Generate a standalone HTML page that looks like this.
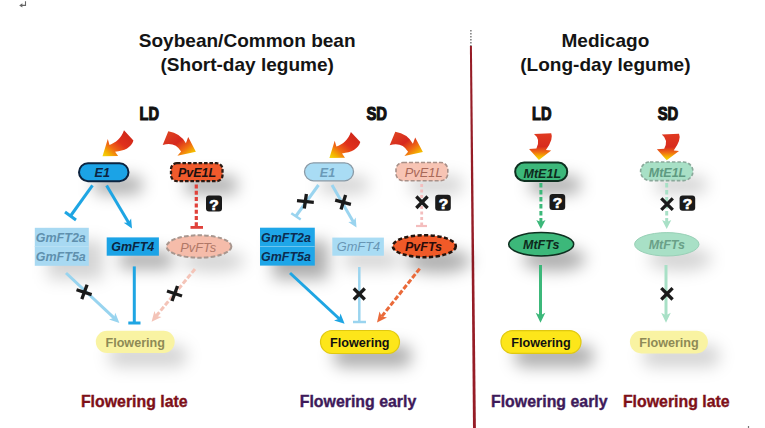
<!DOCTYPE html>
<html><head><meta charset="utf-8">
<style>
html,body{margin:0;padding:0;background:#fff;}
body{width:765px;height:428px;overflow:hidden;position:relative;font-family:"Liberation Sans",sans-serif;}
svg{position:absolute;left:0;top:0;}
text{font-family:"Liberation Sans",sans-serif;}
.t{font-weight:bold;font-size:19.05px;fill:#141414;text-anchor:middle;}
.ld{font-weight:bold;font-size:17.6px;fill:#111;stroke:#111;stroke-width:1.1px;text-anchor:middle;}
.it{font-weight:bold;font-style:italic;font-size:12.5px;text-anchor:middle;}
.ir{font-weight:normal;font-style:italic;font-size:12.8px;text-anchor:middle;}
.fl{font-weight:bold;font-size:12.6px;text-anchor:middle;}
.res{font-weight:bold;font-size:15.9px;text-anchor:middle;stroke-width:0.35px;}
.q{font-weight:bold;font-size:15.5px;fill:#fff;stroke:#fff;stroke-width:0.7px;text-anchor:middle;}
</style></head>
<body>
<svg width="765" height="428" viewBox="0 0 765 428">
<defs>
  <linearGradient id="gA" x1="1" y1="0" x2="0" y2="1">
    <stop offset="0" stop-color="#c82418"/>
    <stop offset="0.45" stop-color="#e0301c"/>
    <stop offset="0.68" stop-color="#f06a14"/>
    <stop offset="0.86" stop-color="#f4b400"/>
    <stop offset="1" stop-color="#f2dc10"/>
  </linearGradient>
  <linearGradient id="gB" x1="0" y1="0" x2="1" y2="1">
    <stop offset="0" stop-color="#e04a22"/>
    <stop offset="0.45" stop-color="#d6281e"/>
    <stop offset="0.68" stop-color="#f06a14"/>
    <stop offset="0.86" stop-color="#f4b400"/>
    <stop offset="1" stop-color="#f2dc10"/>
  </linearGradient>
  <linearGradient id="gC" x1="0" y1="0" x2="0" y2="1">
    <stop offset="0" stop-color="#e03a20"/>
    <stop offset="0.5" stop-color="#d82c1e"/>
    <stop offset="0.7" stop-color="#f06a14"/>
    <stop offset="0.87" stop-color="#f4b400"/>
    <stop offset="1" stop-color="#f2dc10"/>
  </linearGradient>
  <filter id="sh" x="-80%" y="-100%" width="260%" height="300%">
    <feGaussianBlur stdDeviation="8"/>
  </filter>
  <path id="arA" d="M0,0 L5.3,-17.3 L7,-11.4 C13,-13.5 19,-18 21.5,-26 L30.9,-15.9 C29,-9 22,-5.5 12.6,-4.6 L15.6,-0.2 Z"/>
  <path id="arB" d="M0,0 L-7.7,-14.7 L-10,-8.4 Q-15.5,-18.5 -27.6,-20.4 L-33.2,-6.8 Q-21,-10.5 -14.8,-0.3 L-18.5,4 Z"/>
  <path id="arC" d="M0,0 L-9.8,-11 L-2.5,-11.5 Q2.1,-20.5 -4.9,-25.8 L12.3,-26.6 Q15,-21 7,-9.8 L12.3,-9.4 Z"/>
</defs>

<!-- top-left return mark -->
<path d="M25.5,1.2 V5.4 H21" fill="none" stroke="#666" stroke-width="1.1"/><path d="M19.2,5.4 L22.4,3.2 L22.4,7.6 Z" fill="#666"/>

<!-- titles -->
<text class="t" x="247.2" y="47.3">Soybean/Common bean</text>
<text class="t" x="247.2" y="70.8">(Short-day legume)</text>
<text class="t" x="605.4" y="47.3">Medicago</text>
<text class="t" x="605.4" y="70.8">(Long-day legume)</text>

<!-- divider -->
<line x1="470.9" y1="30" x2="470.9" y2="47" stroke="#666" stroke-width="1.3" stroke-dasharray="1.6,1.4"/><polygon points="469.9,46 471.9,46 475.9,428 473,428" fill="#961c26"/>

<!-- LD/SD labels -->
<text class="ld" transform="translate(149.2,120) scale(0.83,1)">LD</text>
<text class="ld" transform="translate(376.7,120) scale(0.84,1)">SD</text>
<text class="ld" transform="translate(541.7,120) scale(0.83,1)">LD</text>
<text class="ld" transform="translate(668,120) scale(0.84,1)">SD</text>

<!-- ===== shadows ===== -->
<g fill="#000" filter="url(#sh)">
  <g opacity="0.32" transform="translate(2,4)">
  <rect x="91" y="172" width="50" height="18" rx="9"/>
  <rect x="183" y="172" width="52" height="18" rx="6"/>
  <rect x="118" y="247" width="52" height="18"/>
  <rect x="271" y="237" width="55" height="38"/>
  <ellipse cx="436" cy="257" rx="33" ry="12"/>
  <ellipse cx="552" cy="255" rx="32" ry="12"/>
  <rect x="527" y="172" width="52" height="18" rx="9"/>
  <rect x="331" y="341" width="79" height="22" rx="11"/>
  <rect x="512" y="341" width="80" height="22" rx="11"/>
  </g>
  <g opacity="0.17" transform="translate(2,4)">
  <rect x="317" y="172" width="50" height="18" rx="9"/>
  <rect x="408" y="172" width="52" height="18" rx="6"/>
  <rect x="653" y="172" width="52" height="18" rx="9"/>
  <rect x="46" y="237" width="55" height="38"/>
  <ellipse cx="211" cy="257" rx="32" ry="11"/>
  <rect x="343" y="247" width="52" height="18"/>
  <ellipse cx="678" cy="255" rx="32" ry="12"/>
  <rect x="106" y="341" width="79" height="22" rx="11"/>
  <rect x="640" y="341" width="78" height="22" rx="11"/>
  </g>
</g>

<!-- ===== Soybean LD ===== -->
<use href="#arA" transform="translate(102.5,156.3)" fill="url(#gA)"/>
<use href="#arB" transform="translate(195.9,151.7)" fill="url(#gB)"/>

<rect x="79" y="163.2" width="49.5" height="18" rx="9" fill="#1ba3e6" stroke="#0c2440" stroke-width="2"/>
<text class="it" x="102.2" y="177.2" fill="#0c2440" font-size="12.8">E1</text>

<rect x="171" y="163.2" width="51.5" height="18" rx="6" fill="#f05a2c" stroke="#2a1a14" stroke-width="2.3" stroke-dasharray="3.6,1.8"/>
<text class="it" x="197.1" y="177.3" fill="#1a1010" font-size="12.1">PvE1L</text>

<!-- E1 lines -->
<line x1="92.5" y1="185.4" x2="70.5" y2="216" stroke="#1ea5e3" stroke-width="3"/>
<line x1="65" y1="212" x2="76" y2="220" stroke="#1ea5e3" stroke-width="3"/>

<!-- PvE1L dashed inhibit -->
<line x1="196.3" y1="184.5" x2="196.3" y2="227" stroke="#e0413a" stroke-width="3.2" stroke-dasharray="4,2.3"/>
<line x1="190.5" y1="227.4" x2="203" y2="227.4" stroke="#e0413a" stroke-width="2.8"/>
<rect x="206" y="195.5" width="16" height="16" rx="3" fill="#1a1a1a"/>
<text class="q" x="214" y="209.6">?</text>

<!-- GmFT2a/5a light -->
<rect x="34.8" y="227.8" width="54" height="38" fill="#a8d9f2"/>
<line x1="34.8" y1="246.5" x2="88.8" y2="246.5" stroke="#b8e0f4" stroke-width="1"/>
<text class="it" x="60.8" y="241.7" fill="#5f90ae" font-size="12.2">GmFT2a</text>
<text class="it" x="60.8" y="261" fill="#5f90ae" font-size="12.2">GmFT5a</text>

<!-- GmFT4 -->
<rect x="106.7" y="237.4" width="52.2" height="18.3" fill="#1ba3e6"/>
<text class="it" x="132.8" y="251.2" fill="#0c2440">GmFT4</text>

<!-- PvFTs light -->
<ellipse cx="199" cy="246.5" rx="32.4" ry="11.2" fill="#f5bcaa" stroke="#a8968e" stroke-width="2" stroke-dasharray="4.5,2.2"/>
<text class="ir" x="198.2" y="251.5" fill="#b07868" font-size="13.4">PvFTs</text>

<!-- bottom lines LD -->
<line x1="134.3" y1="266.4" x2="134.3" y2="323" stroke="#1ea5e3" stroke-width="3"/>
<line x1="128.3" y1="323" x2="140.5" y2="323" stroke="#1ea5e3" stroke-width="3"/>

<!-- Flowering light -->
<rect x="95.8" y="330.7" width="78.9" height="22.3" rx="11.15" fill="#f9f3a2"/>
<text class="fl" x="135.2" y="346.6" fill="#8e8a56">Flowering</text>

<text class="res" x="134.3" y="407.2" fill="#7e1018" stroke="#7e1018">Flowering late</text>

<!-- ===== Soybean SD ===== -->
<use href="#arA" transform="translate(329.4,158)" fill="url(#gA)"/>
<use href="#arB" transform="translate(422.9,152.1)" fill="url(#gB)"/>

<rect x="304.5" y="162.8" width="49" height="18" rx="9" fill="#a9dcf4" stroke="#8a9aa6" stroke-width="1.3"/>
<text class="it" x="327.5" y="177" fill="#6a9ab8" font-size="12.8">E1</text>

<rect x="396" y="162.5" width="51.8" height="18.2" rx="7" fill="#f7c4b4" stroke="#a89088" stroke-width="1.6" stroke-dasharray="4,2"/>
<text class="ir" x="423.7" y="177.3" fill="#a86858" font-size="12.6">PvE1L</text>

<line x1="318.5" y1="185" x2="296" y2="216" stroke="#9ad4ef" stroke-width="3"/>
<line x1="291.3" y1="213.2" x2="300.7" y2="219.5" stroke="#9ad4ef" stroke-width="2.5"/>

<line x1="421.7" y1="184" x2="421.7" y2="226" stroke="#f4bdbd" stroke-width="2.8" stroke-dasharray="3,2.5"/>
<line x1="416" y1="226" x2="427" y2="226" stroke="#f4bdbd" stroke-width="2.2"/>
<rect x="435.2" y="194.8" width="15.6" height="15.9" rx="3" fill="#1a1a1a"/>
<text class="q" x="443.5" y="208.8">?</text>

<rect x="260" y="227.7" width="54.8" height="37.9" fill="#1ea6e8"/>
<line x1="260" y1="246.5" x2="314.8" y2="246.5" stroke="#6cc6f0" stroke-width="1"/>
<text class="it" x="286" y="241.8" fill="#0d2c50" font-size="12.2">GmFT2a</text>
<text class="it" x="286" y="261.1" fill="#0d2c50" font-size="12.2">GmFT5a</text>

<rect x="332.3" y="237.6" width="51.6" height="18.1" fill="#a9dcf4"/>
<text class="ir" x="358.4" y="251.2" fill="#6896b4" font-size="12.9">GmFT4</text>

<ellipse cx="424.3" cy="246.2" rx="31.5" ry="11" fill="#f05a28" stroke="#22120c" stroke-width="2.6" stroke-dasharray="4.2,2.4"/>
<text class="it" x="423.5" y="251.1" fill="#2a0c0a">PvFTs</text>

<line x1="359.3" y1="267" x2="359.3" y2="322" stroke="#9ad4ef" stroke-width="2.5"/>
<line x1="353" y1="322" x2="366" y2="322" stroke="#9ad4ef" stroke-width="2.5"/>

<rect x="320.5" y="330.5" width="79" height="23" rx="11.5" fill="#fde61a" stroke="#e0c810" stroke-width="1.2"/>
<text class="fl" x="359.8" y="346.5" fill="#111">Flowering</text>

<text class="res" x="358" y="407.2" fill="#3e1a5a" stroke="#3e1a5a">Flowering early</text>

<!-- ===== Medicago LD ===== -->
<use href="#arC" transform="translate(538.9,159.9)" fill="url(#gC)"/>
<rect x="515.2" y="162.6" width="52" height="18.3" rx="9" fill="#3cb87a" stroke="#0e3020" stroke-width="2"/>
<text class="it" x="542.3" y="177.9" fill="#0e2a1c" font-size="12.1">MtE1L</text>
<rect x="549.5" y="194" width="15.7" height="15.9" rx="3" fill="#1a1a1a"/>
<text class="q" x="557.6" y="208">?</text>

<ellipse cx="541.2" cy="244.2" rx="32.5" ry="11.7" fill="#3cb87a" stroke="#0e3020" stroke-width="1.5"/>
<text class="it" x="541.2" y="249" fill="#0e2a1c">MtFTs</text>

<rect x="501" y="330.6" width="80" height="22.8" rx="11.4" fill="#fde61a" stroke="#e0c810" stroke-width="1.2"/>
<text class="fl" x="541" y="346.5" fill="#111">Flowering</text>
<text class="res" x="549.3" y="407.2" fill="#3e1a5a" stroke="#3e1a5a">Flowering early</text>

<!-- ===== Medicago SD ===== -->
<use href="#arC" transform="translate(666.7,160.3)" fill="url(#gC)"/>
<rect x="640.6" y="162" width="52.3" height="18.6" rx="9.3" fill="#a8e0c6" stroke="#8aa89a" stroke-width="1.6" stroke-dasharray="3.5,2"/>
<text class="it" x="667.5" y="177.3" fill="#5e9a80" font-size="12.1">MtE1L</text>
<rect x="679.6" y="195.5" width="15.6" height="15.3" rx="3" fill="#1a1a1a"/>
<text class="q" x="687.6" y="209">?</text>
<ellipse cx="666.8" cy="244.3" rx="32.2" ry="11.7" fill="#a8e0c6" stroke="#98d0b6" stroke-width="1"/>
<text class="it" x="666.8" y="249" fill="#6aa088">MtFTs</text>

<rect x="629.9" y="330.7" width="78" height="22.7" rx="11.35" fill="#f9f3a2"/>
<text class="fl" x="669" y="346.6" fill="#8e8a56">Flowering</text>
<text class="res" x="676.3" y="407.2" fill="#7e1018" stroke="#7e1018">Flowering late</text>

<!-- arrows -->
<line x1="106.6" y1="185.4" x2="128.8" y2="223.0" stroke="#1ea5e3" stroke-width="3"/>
<polygon points="132.0,228.4 123.7,222.8 128.5,222.5 131.1,218.5" fill="#1ea5e3"/>
<line x1="66" y1="273" x2="114.3" y2="318.2" stroke="#98d4ef" stroke-width="3"/>
<polygon points="119.4,323.0 109.0,319.4 114.0,317.8 115.3,312.8" fill="#98d4ef"/>
<line x1="195" y1="269" x2="156.0" y2="316.3" stroke="#f4c4b8" stroke-width="3" stroke-dasharray="5,2"/>
<polygon points="151.6,321.7 154.4,311.1 156.4,315.9 161.5,316.9" fill="#f4c4b8"/>
<line x1="332" y1="185" x2="353.4" y2="222.0" stroke="#9ad4ef" stroke-width="3"/>
<polygon points="356.5,227.5 348.3,221.9 353.1,221.6 355.7,217.6" fill="#9ad4ef"/>
<line x1="290" y1="273" x2="339.5" y2="319.0" stroke="#1ea5e3" stroke-width="3"/>
<polygon points="344.6,323.8 334.0,320.5 339.1,318.7 340.5,313.5" fill="#1ea5e3"/>
<line x1="419.7" y1="268.6" x2="381.4" y2="316.9" stroke="#ea6a3a" stroke-width="3" stroke-dasharray="5,2"/>
<polygon points="377.0,322.4 379.5,311.6 381.7,316.5 387.0,317.6" fill="#ea6a3a"/>
<line x1="540.9" y1="183" x2="540.9" y2="222.5" stroke="#3cb87a" stroke-width="3" stroke-dasharray="4.5,2.5"/>
<polygon points="540.9,229.0 536.3,220.0 540.9,222.0 545.5,220.0" fill="#3cb87a"/>
<line x1="540.5" y1="265" x2="540.5" y2="315.8" stroke="#3cb87a" stroke-width="3"/>
<polygon points="540.5,322.8 535.7,312.8 540.5,315.3 545.3,312.8" fill="#3cb87a"/>
<line x1="666.7" y1="183" x2="666.7" y2="222.5" stroke="#a8e0c6" stroke-width="3" stroke-dasharray="4.5,2.5"/>
<polygon points="666.7,229.0 662.1,220.0 666.7,222.0 671.3,220.0" fill="#a8e0c6"/>
<line x1="666" y1="265" x2="666.0" y2="315.8" stroke="#a8e0c6" stroke-width="3"/>
<polygon points="666.0,322.8 661.2,312.8 666.0,315.3 670.8,312.8" fill="#a8e0c6"/>
<!-- ===== X marks (on top) ===== -->
<g stroke="#1a1a1a" stroke-width="3.3" stroke-linecap="butt">
  <line x1="76.5" y1="289.7" x2="91.6" y2="294.6"/>
  <line x1="87.1" y1="284.8" x2="81.8" y2="299.1"/>
  <line x1="167" y1="291" x2="182" y2="296"/>
  <line x1="177.5" y1="286" x2="172" y2="301"/>
  <line x1="297" y1="200.7" x2="313.8" y2="202.3"/>
  <line x1="306.4" y1="193.9" x2="304.3" y2="208.5"/>
  <line x1="335.2" y1="200.2" x2="350.9" y2="204.3"/>
  <line x1="345.6" y1="194.9" x2="341" y2="209.6"/>
  <line x1="416.3" y1="196.5" x2="427.6" y2="208"/>
  <line x1="427.6" y1="196.5" x2="416.3" y2="208"/>
  <line x1="353.8" y1="288.5" x2="364.8" y2="299.5"/>
  <line x1="364.8" y1="288.5" x2="353.8" y2="299.5"/>
  <line x1="661.3" y1="198.3" x2="672.8" y2="209.8"/>
  <line x1="672.8" y1="198.3" x2="661.3" y2="209.8"/>
  <line x1="661.3" y1="288.2" x2="672.6" y2="299.5"/>
  <line x1="672.6" y1="288.2" x2="661.3" y2="299.5"/>
</g>

<rect x="747.9" y="426" width="1.2" height="2" fill="#777"/>
</svg>
</body></html>
